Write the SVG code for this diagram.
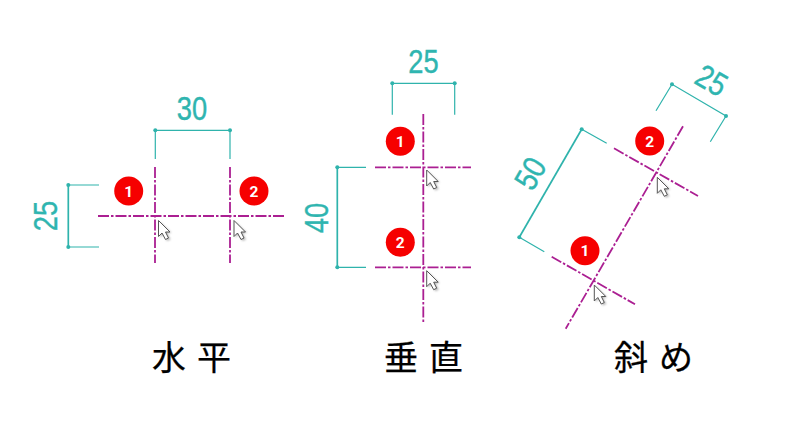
<svg xmlns="http://www.w3.org/2000/svg" width="800" height="434" viewBox="0 0 800 434">
<style>
.dim{fill:none;stroke:#2fb3ac;stroke-width:1.2}
.dimb{fill:none;stroke:#2fb3ac;stroke-width:1.7}
.cl{fill:none;stroke:#ab1f92;stroke-width:1.8;stroke-dasharray:11 2 2.5 2}
.pt{fill:#2fb3ac}
.num{fill:#2fb5b0;stroke:#2fb5b0;stroke-width:.4;font-family:"Liberation Sans",sans-serif;font-size:32.5px;text-anchor:middle}
.bad{fill:#f60000}
.bt{fill:#fff;font-family:Roboto,"Liberation Sans",sans-serif;font-size:15.5px;font-weight:700;text-anchor:middle}
.ttl{fill:#000;stroke:#000;stroke-width:.25;font-family:"Noto Sans CJK JP",sans-serif;font-size:34px;font-weight:400;letter-spacing:11px}
</style>
<defs>
<filter id="sh" x="-50%" y="-50%" width="200%" height="200%"><feGaussianBlur stdDeviation="1.2"/></filter>
<g id="cur">
<path d="M1.5 1.5V17L5 13.5 8.5 20.5 12 19 8.5 12.5H13Z" fill="#777" opacity=".55" filter="url(#sh)"/>
<path d="M0 0V16L3.5 12.5 7 19 10 17.5 7 11.5H11.5Z" fill="#fff" stroke="#555" stroke-width="1"/>
</g>
</defs>
<rect width="800" height="434" fill="#fff"/>
<g id="connectors">
<path class="dim" d="M155.3 159V130.3H230V159M99 185H68.3M99 247H68.3"/>
<path class="dimb" d="M68.3 185V247"/>
<path class="cl" d="M155 167V263M230 167V263M98 216H284"/>
<circle class="pt" cx="155.3" cy="130.3" r="2"/><circle class="pt" cx="230" cy="130.3" r="2"/>
<circle class="pt" cx="68.3" cy="185" r="2"/><circle class="pt" cx="68.3" cy="247" r="2"/>
<path class="dim" d="M392.3 114.7V83.3H454.7V114.7M366 167.3H337.3M366 267.3H337.3"/>
<path class="dimb" d="M337.3 167.3V267.3"/>
<path class="cl" d="M423.3 114V324M375 167.3H471M375 267.3H471"/>
<circle class="pt" cx="392.3" cy="83.3" r="2"/><circle class="pt" cx="454.7" cy="83.3" r="2"/>
<circle class="pt" cx="337.3" cy="167.3" r="2"/><circle class="pt" cx="337.3" cy="267.3" r="2"/>
<path class="dim" d="M656 110.7L672 84.3L726 116L710.3 141.7M606.7 143.3L581.7 129.3M544.3 251.7L519.3 237.3"/>
<path class="dimb" d="M581.7 129.3L519.3 237.3"/>
<path class="cl" d="M683 126.3L565.7 328.7M614 148.3L698 196M551.7 256.7L635 304.3"/>
<circle class="pt" cx="672" cy="84.3" r="2"/><circle class="pt" cx="726" cy="116" r="2"/>
<circle class="pt" cx="581.7" cy="129.3" r="2"/><circle class="pt" cx="519.3" cy="237.3" r="2"/>
</g>
<g id="cursors">
<use href="#cur" x="158.5" y="220.5"/><use href="#cur" x="234" y="220.5"/>
<use href="#cur" x="426.7" y="170"/><use href="#cur" x="426.7" y="270.7"/>
<use href="#cur" x="657.3" y="177.3"/><use href="#cur" x="594.3" y="285"/>
</g>
<g id="labels">
<text class="num" transform="translate(192 119.5) scale(.84 1)">30</text>
<text class="num" transform="translate(57 216) rotate(-90) scale(.84 1)">25</text>
<text class="num" transform="translate(423.5 73) scale(.84 1)">25</text>
<text class="num" transform="translate(327.5 218) rotate(-90) scale(.84 1)">40</text>
<text class="num" transform="translate(706 90) rotate(30) scale(.84 1)">25</text>
<text class="num" transform="translate(540 179) rotate(-60) scale(.84 1)">50</text>
</g>
<g id="badge-h1"><circle class="bad" cx="128.7" cy="191" r="14.5"/><text class="bt" x="128.7" y="196.5">1</text></g>
<g id="badge-h2"><circle class="bad" cx="254" cy="191" r="14.5"/><text class="bt" x="254" y="196.5">2</text></g>
<g id="badge-v1"><circle class="bad" cx="400.3" cy="141.3" r="14.5"/><text class="bt" x="400.3" y="146.8">1</text></g>
<g id="badge-v2"><circle class="bad" cx="400.3" cy="242.3" r="14.5"/><text class="bt" x="400.3" y="247.8">2</text></g>
<g id="badge-d1"><circle class="bad" cx="585" cy="250.7" r="14.5"/><text class="bt" x="585" y="256.2">1</text></g>
<g id="badge-d2"><circle class="bad" cx="649.7" cy="141" r="14.5"/><text class="bt" x="649.7" y="146.5">2</text></g>
<g id="titles">
<text class="ttl" x="152" y="370">水平</text>
<text class="ttl" x="384" y="370">垂直</text>
<text class="ttl" x="614" y="370">斜め</text>
</g>
</svg>
